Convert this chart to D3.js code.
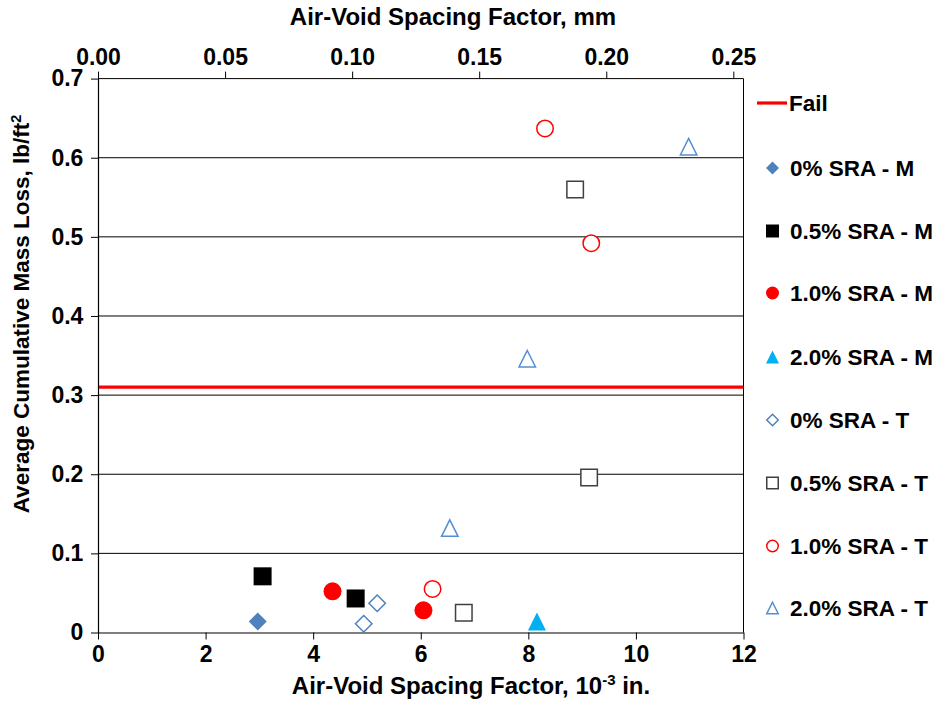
<!DOCTYPE html>
<html>
<head>
<meta charset="utf-8">
<script src="https://cdn.jsdelivr.net/npm/d3@7"></script>
<style>
  html, body { margin: 0; padding: 0; background: #fff; }
  svg text { font-family: "Liberation Sans", Arial, sans-serif; font-weight: bold; fill: #000; }
</style>
</head>
<body>
<svg id="chart" width="940" height="702"></svg>
<script>
// Spacing factor (10^-3 in.) and mass loss (lb/ft²) for each mix series
const series = ["0% SRA - M", "0.5% SRA - M", "1.0% SRA - M", "2.0% SRA - M",
                "0% SRA - T", "0.5% SRA - T", "1.0% SRA - T", "2.0% SRA - T"];
const spacing_0M  = [2.97];
const loss_0M     = [0.014];
const spacing_05M = [3.06, 4.79];
const loss_05M    = [0.071, 0.043];
const spacing_10M = [4.36, 6.05];
const loss_10M    = [0.052, 0.028];
const spacing_20M = [8.16];
const loss_20M    = [0.014];
const spacing_0T  = [5.19, 4.94];
const loss_0T     = [0.037, 0.011];
const spacing_05T = [8.87, 9.13, 6.80];
const loss_05T    = [0.560, 0.196, 0.025];
const spacing_10T = [8.31, 9.17, 6.22];
const loss_10T    = [0.637, 0.492, 0.055];
const spacing_20T = [10.98, 7.98, 6.54];
const loss_20T    = [0.614, 0.346, 0.132];
const failLimit = 0.31;

const xTicks = [0, 2, 4, 6, 8, 10, 12];
const mmTicks = [0.00, 0.05, 0.10, 0.15, 0.20, 0.25];
const yTicks = [0, 0.1, 0.2, 0.3, 0.4, 0.5, 0.6, 0.7];

// Marker style per series
const styles = {
  "0% SRA - M":   { shape: "diamond",  fill: "#4F81BD", stroke: "none" },
  "0.5% SRA - M": { shape: "square",   fill: "#000000", stroke: "none" },
  "1.0% SRA - M": { shape: "circle",   fill: "#FF0000", stroke: "none" },
  "2.0% SRA - M": { shape: "triangle", fill: "#00B0F0", stroke: "none" },
  "0% SRA - T":   { shape: "diamond",  fill: "none", stroke: "#4F81BD" },
  "0.5% SRA - T": { shape: "square",   fill: "none", stroke: "#404040" },
  "1.0% SRA - T": { shape: "circle",   fill: "none", stroke: "#FF0000" },
  "2.0% SRA - T": { shape: "triangle", fill: "none", stroke: "#558ED5" }
};

const seriesData = {
  "0% SRA - M":   d3.zip(spacing_0M, loss_0M),
  "0.5% SRA - M": d3.zip(spacing_05M, loss_05M),
  "1.0% SRA - M": d3.zip(spacing_10M, loss_10M),
  "2.0% SRA - M": d3.zip(spacing_20M, loss_20M),
  "0% SRA - T":   d3.zip(spacing_0T, loss_0T),
  "0.5% SRA - T": d3.zip(spacing_05T, loss_05T),
  "1.0% SRA - T": d3.zip(spacing_10T, loss_10T),
  "2.0% SRA - T": d3.zip(spacing_20T, loss_20T)
};

const svg = d3.select("#chart");
const L = 98, R = 743.5, T = 78.6, B = 632.5;

const x = d3.scaleLinear().domain([0, 12]).range([L, R]);
const xmm = d3.scaleLinear().domain([0, 0.254]).range([L, R]);
const y = d3.scaleLinear().domain([0, 0.7]).range([B, T]);

// Horizontal gridlines
svg.append("g").selectAll("line")
  .data(yTicks.filter(v => v > 0 && v < 0.7))
  .join("line")
  .attr("x1", L).attr("x2", R)
  .attr("y1", d => y(d)).attr("y2", d => y(d))
  .attr("stroke", "#000").attr("stroke-width", 1);

// Plot frame (top and right)
svg.append("line").attr("x1", L).attr("x2", R).attr("y1", T).attr("y2", T)
  .attr("stroke", "#000").attr("stroke-width", 1);
svg.append("line").attr("x1", R).attr("x2", R).attr("y1", T).attr("y2", B)
  .attr("stroke", "#000").attr("stroke-width", 1);

// Axes
const axisFont = "23px";
const gx = svg.append("g").attr("transform", `translate(0,${B})`)
  .call(d3.axisBottom(x).tickValues(xTicks).tickFormat(d3.format("d")).tickSize(7).tickSizeOuter(0));
const gxt = svg.append("g").attr("transform", `translate(0,${T})`)
  .call(d3.axisTop(xmm).tickValues(mmTicks).tickFormat(d3.format(".2f")).tickSize(7).tickSizeOuter(0));
const gy = svg.append("g").attr("transform", `translate(${L},0)`)
  .call(d3.axisLeft(y).tickValues(yTicks).tickFormat(d => d === 0 ? "0" : d3.format(".1f")(d)).tickSize(7).tickSizeOuter(0));

[gx, gxt, gy].forEach(g => {
  g.select(".domain").attr("stroke", "#000").attr("stroke-width", 1.2);
  g.selectAll(".tick line").attr("stroke", "#000");
  g.selectAll(".tick text").style("font-size", axisFont)
    .style("font-family", "'Liberation Sans', Arial, sans-serif").style("font-weight", "bold").attr("fill", "#000");
});
gxt.select(".domain").remove();
gx.selectAll(".tick text").attr("dy", "0.85em");
gxt.selectAll(".tick text").attr("dy", "-0.15em");
gy.selectAll(".tick text").attr("dx", "-0.2em");

// Fail limit line
svg.append("line")
  .attr("x1", L + 1).attr("x2", R)
  .attr("y1", y(failLimit)).attr("y2", y(failLimit))
  .attr("stroke", "#FF0000").attr("stroke-width", 3.2);

// Marker path generator, centred on the bounding box
function markerPath(shape, s) {
  const h = s / 2;
  if (shape === "square") return `M${-h},${-h}H${h}V${h}H${-h}Z`;
  if (shape === "diamond") return `M0,${-h}L${h},0L0,${h}L${-h},0Z`;
  if (shape === "triangle") return `M0,${-h}L${h},${h}L${-h},${h}Z`;
  return d3.arc()({ innerRadius: 0, outerRadius: h, startAngle: 0, endAngle: 2 * Math.PI });
}

function drawMarker(g, name, cx, cy, size) {
  const st = styles[name];
  const filled = st.fill !== "none";
  const s = filled ? size : size - 1.5;
  g.append("path")
    .attr("transform", `translate(${cx},${cy})`)
    .attr("d", markerPath(st.shape, s))
    .attr("fill", filled ? st.fill : "#fff")
    .attr("stroke", filled ? "none" : st.stroke)
    .attr("stroke-width", filled ? 0 : 1.5);
}

// Data points
const pts = svg.append("g");
series.forEach(name => {
  seriesData[name].forEach(([sx, ml]) => drawMarker(pts, name, x(sx), y(ml), 18));
});

// Axis titles
svg.append("text").attr("x", 453).attr("y", 25).attr("text-anchor", "middle")
  .style("font-size", "24px").text("Air-Void Spacing Factor, mm");

const bt = svg.append("text").attr("x", 471).attr("y", 694).attr("text-anchor", "middle")
  .style("font-size", "24px");
bt.append("tspan").text("Air-Void Spacing Factor, 10");
bt.append("tspan").attr("dy", -9).style("font-size", "15px").text("-3");
bt.append("tspan").attr("dy", 9).text(" in.");

const lt = svg.append("text").attr("transform", "translate(29,314) rotate(-90)")
  .attr("text-anchor", "middle").style("font-size", "22.5px");
lt.append("tspan").text("Average Cumulative Mass Loss, lb/ft");
lt.append("tspan").attr("dy", -8).style("font-size", "14.5px").text("2");

// Legend
const leg = svg.append("g");
const legendRows = [103, 168, 231, 293, 357, 420, 483, 546, 608];
leg.append("line").attr("x1", 757).attr("x2", 787)
  .attr("y1", legendRows[0]).attr("y2", legendRows[0])
  .attr("stroke", "#FF0000").attr("stroke-width", 3.2);
leg.append("text").attr("x", 789).attr("y", legendRows[0]).attr("dy", "0.36em")
  .style("font-size", "22.5px").text("Fail");
series.forEach((name, i) => {
  const yy = legendRows[i + 1];
  drawMarker(leg, name, 772.5, yy, 13);
  leg.append("text").attr("x", 790).attr("y", yy).attr("dy", "0.36em")
    .style("font-size", "22.5px").text(name);
});
</script>
</body>
</html>
